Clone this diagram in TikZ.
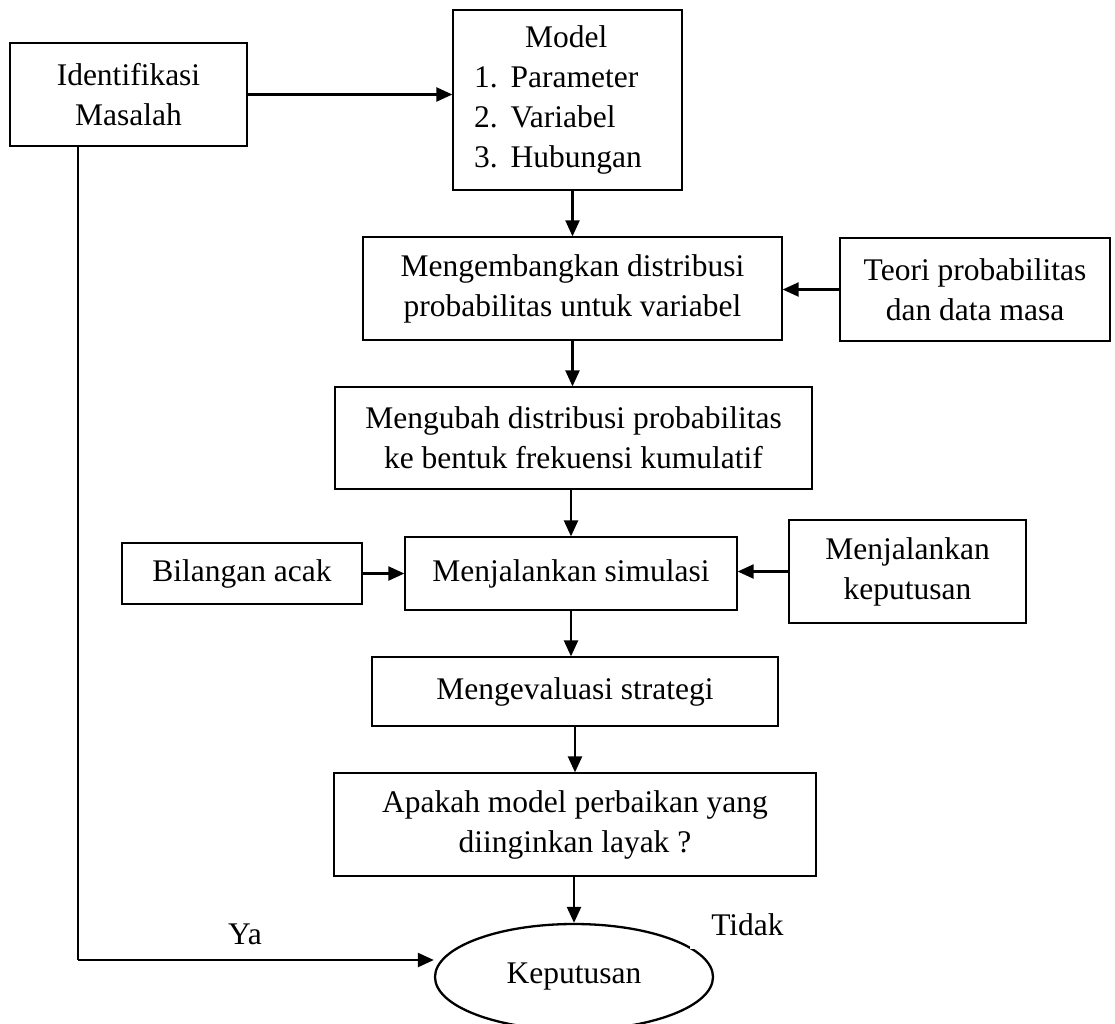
\documentclass[tikz,border=0pt]{standalone}
\usepackage{fontspec}
\setmainfont{Liberation Serif}
\usetikzlibrary{arrows.meta,shapes.geometric}

\begin{document}
\begin{tikzpicture}[x=1pt,y=-1pt,font=\fontsize{31.5}{40}\selectfont]
    \tikzstyle{arrow} = [line width=2.3pt,-{Triangle[length=16pt,width=14pt]}]
    \tikzstyle{box} = [draw, line width=1.3pt, inner sep=0pt, align=center]
    \useasboundingbox (0,0) rectangle (1115,1023);
    \clip (0,0) rectangle (1115,1023);

    % Top left box
    \node [box, minimum width=237pt, minimum height=103pt] (Ident) at (128.5,94.5) {Identifikasi\\Masalah};

    % Top box, the model and its list
    \node [box, minimum width=229pt, minimum height=180pt] (Model) at (567.5,100) {};
    \node [draw=none, inner sep=0pt, align=left] (ModelList) at (558,100) {\hspace*{51pt}Model\\1.\hspace{13pt}Parameter\\2.\hspace{13pt}Variabel\\3.\hspace{13pt}Hubungan};
    \draw [arrow] (Ident.east) -- (Ident.east -| Model.west);

    % Second row, middle box
    \node [box, minimum width=419pt, minimum height=103pt] (Dev) at (572.5,288.5) {Mengembangkan distribusi\\probabilitas untuk variabel};
    \draw [arrow] (Dev.north |- Model.south) -- (Dev.north);

      % Second row, right box
      \node [box, minimum width=270pt, minimum height=103pt] (Teori) at (975,289.5) {Teori probabilitas\\dan data masa};
      \draw [arrow] (Teori.west) -- (Teori.west -| Dev.east);

    % Third row
    \node [box, minimum width=477pt, minimum height=102pt] (Ubah) at (573.5,438) {Mengubah distribusi probabilitas\\ke bentuk frekuensi kumulatif};
    \draw [arrow] (Dev.south) -- (Dev.south |- Ubah.north);

    % Fourth row, middle box
    \node [box, minimum width=332pt, minimum height=73pt] (Sim) at (571,573.5) {Menjalankan simulasi};
    \draw [arrow] (Ubah.south -| Sim.north) -- (Sim.north);

      % Fourth row, left box
      \node [box, minimum width=240pt, minimum height=61pt] (Acak) at (242,573.5) {Bilangan acak};
      \draw [arrow] (Acak.east) -- (Sim.west);

      % Fourth row, right box
      \node [box, minimum width=237pt, minimum height=103pt] (Jalan) at (907.5,571.5) {Menjalankan\\keputusan};
      \draw [arrow] (Jalan.west) -- (Jalan.west -| Sim.east);

    % Fifth row
    \node [box, minimum width=406pt, minimum height=69pt] (Eval) at (575,691.5) {\raisebox{4pt}{Mengevaluasi strategi}};
    \draw [arrow] (Sim.south) -- (Sim.south |- Eval.north);

    % Sixth row
    \node [box, minimum width=482pt, minimum height=103pt] (Layak) at (575,824.5) {Apakah model perbaikan yang\\diinginkan layak ?};
    \draw [arrow] (Eval.south) -- (Layak.north);

    % Bottom ellipse
    \node [draw, ellipse, line width=2.3pt, minimum width=278pt, minimum height=106pt, inner sep=0pt] (Kepu) at (574,977) {Keputusan};
    \draw [arrow] (Layak.south -| Kepu.north) -- (Kepu.north);

    % Yes branch, from the first box down to the ellipse
    \coordinate (YaTurn) at (78,960);
    \draw [line width=1.3pt] (Ident.south -| YaTurn) -- (YaTurn);
    \draw [arrow] (YaTurn) -- (YaTurn -| Kepu.west);
    \node (Ya) at (245,934) {Ya};

    % No label
    \node [fill=white, inner xsep=21pt, inner ysep=13pt] (Tidak) at (747.5,925) {Tidak};
\end{tikzpicture}
\end{document}
